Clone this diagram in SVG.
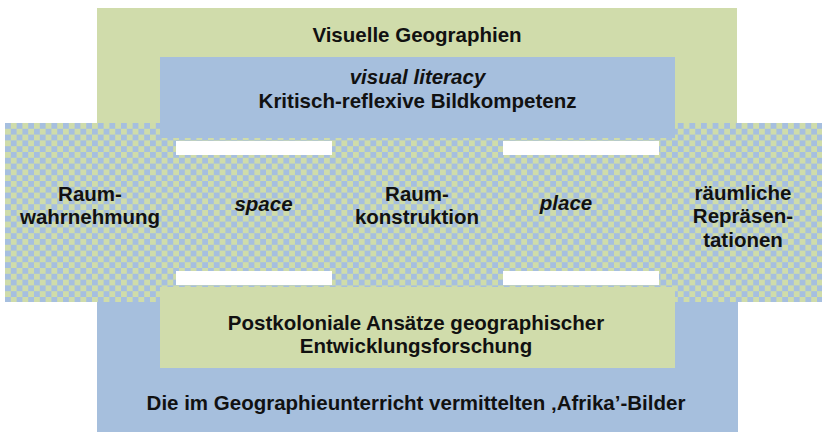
<svg xmlns="http://www.w3.org/2000/svg" width="822" height="432" viewBox="0 0 822 432">
<defs>
<pattern id="chk" x="5" y="123" width="11.6" height="11.6" patternUnits="userSpaceOnUse">
<rect width="11.6" height="11.6" fill="#cfdcaa"/>
<rect width="5.8" height="5.8" fill="#a6bfdf"/>
<rect x="5.8" y="5.8" width="5.8" height="5.8" fill="#a6bfdf"/>
</pattern>
</defs>
<style>
.t{font-family:"Liberation Sans",Arial,sans-serif;font-weight:bold;font-size:20.5px;fill:#111;text-anchor:middle}
.i{font-style:italic}
.g{fill:#d0dcab}
.b{fill:#a6bfdd}
.w{fill:#ffffff}
</style>
<rect width="822" height="432" fill="#ffffff"/>
<g id="visuelle-geographien">
<rect class="g" x="97" y="8" width="640" height="130"/>
<text class="t" x="417" y="42">Visuelle Geographien</text>
</g>
<g id="afrika-bilder">
<rect class="b" x="97" y="290" width="641" height="142"/>
<text class="t" x="416" y="410">Die im Geographieunterricht vermittelten ‚Afrika’-Bilder</text>
</g>
<g id="band">
<rect x="5" y="123" width="817" height="179" fill="url(#chk)"/>
</g>
<g id="visual-literacy">
<rect class="b" x="160" y="57" width="515" height="81"/>
<text class="t i" x="417.5" y="84">visual literacy</text>
<text class="t" x="417.5" y="108">Kritisch-reflexive Bildkompetenz</text>
</g>
<g id="postkolonial">
<rect class="g" x="160" y="287" width="515" height="81"/>
<text class="t" x="416" y="330">Postkoloniale Ansätze geographischer</text>
<text class="t" x="416" y="353">Entwicklungsforschung</text>
</g>
<g id="bars">
<rect class="w" x="176" y="141" width="156" height="14"/>
<rect class="w" x="503" y="141" width="156" height="14"/>
<rect class="w" x="176" y="271" width="156" height="14"/>
<rect class="w" x="503" y="271" width="156" height="14"/>
</g>
<g id="raumwahrnehmung">
<text class="t" x="90" y="201">Raum-</text>
<text class="t" x="90" y="224">wahrnehmung</text>
</g>
<g id="space">
<text class="t i" x="263.5" y="211">space</text>
</g>
<g id="raumkonstruktion">
<text class="t" x="417" y="201">Raum-</text>
<text class="t" x="417" y="224">konstruktion</text>
</g>
<g id="place">
<text class="t i" x="566" y="210">place</text>
</g>
<g id="raeumliche-repraesentationen">
<text class="t" x="743" y="200">räumliche</text>
<text class="t" x="743" y="223">Repräsen-</text>
<text class="t" x="743" y="247">tationen</text>
</g>
</svg>
